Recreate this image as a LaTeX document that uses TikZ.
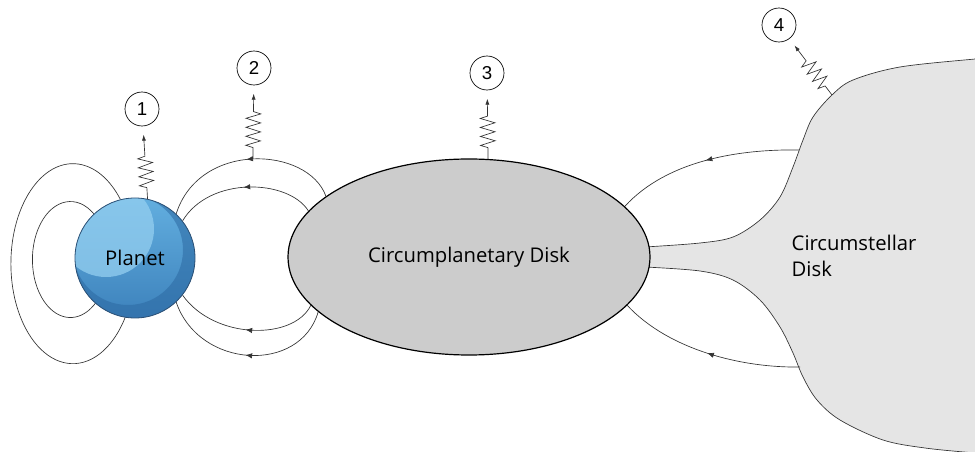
\documentclass[tikz,border=0pt]{standalone}
\usepackage{fontspec}
\setmainfont{Open Sans}
\newfontfamily\digitfont{Liberation Sans}
\usetikzlibrary{positioning,arrows.meta,shapes.geometric,decorations.pathmorphing,decorations.markings,backgrounds}
\definecolor{planettop}{HTML}{62AEDF}
\definecolor{planetbot}{HTML}{3D82BC}
\definecolor{planetcap}{HTML}{94CFF0}
\definecolor{planetshade}{HTML}{2C69A2}
\definecolor{planetrim}{HTML}{2B4F74}
\definecolor{cpdgray}{HTML}{CCCCCC}
\definecolor{csdgray}{HTML}{E5E5E5}
\definecolor{inkgray}{HTML}{333333}

\begin{document}
\begin{tikzpicture}[x=0.75pt,y=-0.75pt,
    font=\fontsize{15.2}{19}\selectfont,
    planet/.style={circle,minimum size=90pt,inner sep=0pt,draw=planetrim,line width=.6pt,
      top color=planettop,bottom color=planetbot,
      path picture={
        \fill[planetcap,opacity=.75] ([shift={(-21.75pt,21.75pt)}]path picture bounding box.center) circle[radius=36pt];
        \fill[planetshade,opacity=.55,even odd rule] (path picture bounding box.center) circle[radius=46pt]
          ([shift={(-5.25pt,6pt)}]path picture bounding box.center) circle[radius=41.25pt];}},
    cpd/.style={ellipse,minimum width=271.5pt,minimum height=147pt,inner sep=0pt,draw,line width=.9pt,fill=cpdgray},
    csd/.style={draw=inkgray,line width=.5pt,fill=csdgray},
    num/.style={circle,draw,line width=.5pt,fill=white,minimum size=25.5pt,inner sep=0pt,outer sep=6.5pt,
      font=\digitfont\fontsize{14}{16}\selectfont},
    fieldline/.style={draw=inkgray,line width=.5pt},
    flux/.style={fieldline,postaction={decorate},
      decoration={markings,mark=at position .5 with {\arrow{Latex[length=5pt,width=4pt]}}}},
    spring/.style={draw=inkgray,line width=.5pt,-{Latex[length=4.5pt,width=3pt]},decorate,
      decoration={zigzag,segment length=6.75pt,amplitude=5.5pt,pre length=8.5pt,post length=13pt}}
  ]
  \useasboundingbox (0,0) rectangle (975,452);

  \node[planet] (planet) at (135,258) {Planet};
  \node[cpd] (cpd) at (469,257) {Circumplanetary Disk};
  \node[anchor=west,align=left] (csdlabel) at (787,256) {Circumstellar\\Disk};

  \node[num] (n1) at (142,109) {1};
  \node[num] (n2) at (254,68) {2};
  \node[num] (n3) at (487,73) {3};
  \node[num] (n4) at (779,25) {4};

  \coordinate (csdtip) at (832,95);
  \coordinate (csdup) at (799,150);
  \coordinate (csdlow) at (800,367);

  \begin{pgfonlayer}{background}
    \draw[csd] plot[smooth,tension=.55] coordinates {(1000,57) (975,59) (900,67) (853,80) (832,95) (813,117) (803,140)
        (793,167) (780,197) (760,220) (733,237) (700,243) (645,247)}
      -- plot[smooth,tension=.55] coordinates {(645,267) (700,271) (733,280) (760,300) (780,327) (793,353) (803,377)
        (817,400) (840,420) (883,440) (925,448) (975,453) (1000,455)}
      -- (1010,455) -- (1010,57) -- cycle;

    \draw[fieldline] (planet.104) arc[start angle=-40,end angle=-328,x radius=62,y radius=100];
    \draw[fieldline] (planet.133) arc[start angle=-52,end angle=-313,x radius=38,y radius=58];

    \draw[flux] (cpd.157) .. controls +(-18,-50) and +(23,-73) .. (planet.47) coordinate[pos=.5] (fluxtop);
    \draw[flux] (cpd.164) .. controls +(-20,-32) and +(27,-45) .. (planet.38);
    \draw[flux] (cpd.197) .. controls +(-17,35) and +(32,45) .. (planet.-38);
    \draw[flux] (cpd.200) .. controls +(-18,62) and +(23,67) .. (planet.-47);

    \draw[flux] (csdup) .. controls +(-57,-1) and +(43,-47) .. (cpd.18);
    \draw[flux] (csdlow) .. controls +(-57,1) and +(42,45) .. (cpd.-17);
  \end{pgfonlayer}

  \draw[spring] (planet.78) -- (n1);
  \draw[spring] (fluxtop) -- (n2);
  \draw[spring] (cpd.79) -- (n3);
  \draw[spring] (csdtip) -- (n4);
\end{tikzpicture}
\end{document}
